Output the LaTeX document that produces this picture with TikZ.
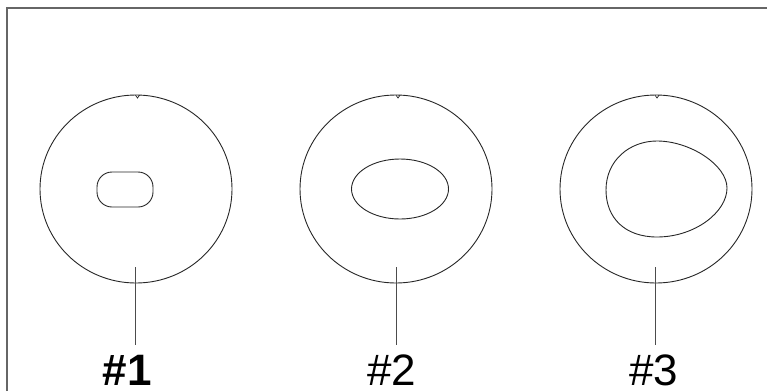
\documentclass[tikz,border=0pt]{standalone}
\usepackage{fontspec}
\setmainfont{Liberation Sans}
\begin{document}
\begin{tikzpicture}[x=1pt,y=-1pt,
  outer/.style={draw=black!85,line width=0.9pt},
  inner/.style={draw=black!85,line width=0.9pt},
  leader/.style={draw=black!70,line width=0.8pt},
  frameline/.style={draw=black!60,line width=2pt},
  lbl/.style={inner sep=0pt,anchor=base west,font=\fontsize{44}{50}\selectfont}]
\useasboundingbox (0,0) rectangle (767,391);
% frame (top and left edges)
\draw[frameline] (7,391) -- (7,7.5) -- (767,7.5);
% outer circles with small notch at the top
\foreach \cx/\nx in {136/137.5,396/398,656/657}{
  \draw[outer] (\cx,189) ellipse [x radius=96,y radius=94];
  \draw[outer,line width=0.7pt] (\nx-2,95.2) -- (\nx,98) -- (\nx+2,95.2);
}
% inner shape #1: rounded rectangle
\draw[inner,rounded corners=15pt] (97,172) rectangle (153,207);
% inner shape #2: ellipse
\draw[inner] (400,189) ellipse [x radius=48.5,y radius=30];
% inner shape #3: egg
\draw[inner] (606,190) .. controls (606,160) and (630,141) .. (657,141)
  .. controls (690,141) and (727,165) .. (727,188)
  .. controls (727,212) and (695,237) .. (657,237)
  .. controls (625,237) and (606,218) .. cycle;
% labels
\node[lbl,font=\fontsize{44}{50}\selectfont\bfseries] (l1) at (102.5,385) {\#1};
\node[lbl] (l2) at (367,385) {\#2};
\node[lbl] (l3) at (629,385) {\#3};
% leader lines
\coordinate (a1) at (135.3,267); \coordinate (b1) at (135.3,345);
\coordinate (a2) at (396,267); \coordinate (b2) at (396,345);
\coordinate (a3) at (655,267); \coordinate (b3) at (655,345);
\draw[leader] (a1) -- (b1);
\draw[leader] (a2) -- (b2);
\draw[leader] (a3) -- (b3);
\end{tikzpicture}
\end{document}
